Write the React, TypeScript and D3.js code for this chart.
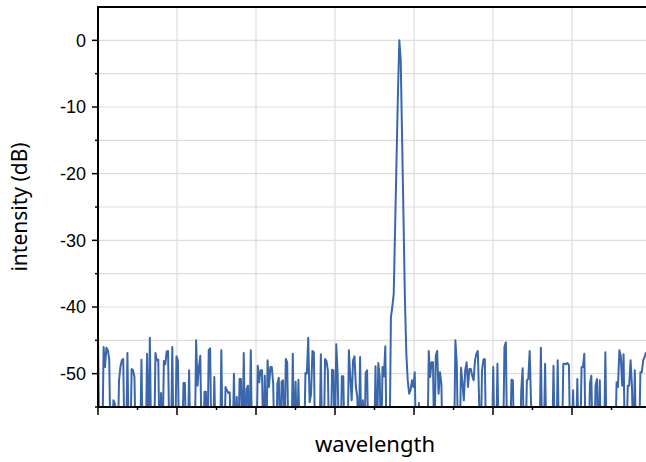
import { useMemo } from "react";
import * as d3 from "d3";

// spectrum samples in dB, evenly spaced along the wavelength axis
const intensity = [
  -44.2, -62, -62, -62, -46, -49, -46.1, -46.5, -47.8, -62,
  -62, -54, -54.5, -62, -62, -51, -49, -48, -47.8, -62,
  -62, -46.9, -62, -62, -49.3, -49.5, -50.5, -62, -62, -62,
  -62, -47.9, -62, -62, -62, -47, -62, -44.6, -62, -62,
  -62, -46.9, -48, -47.9, -62, -52.9, -62, -48.1, -48.6, -46.7,
  -46.6, -62, -62, -46, -62, -62, -47.4, -48, -62, -62,
  -62, -51.4, -51.4, -62, -62, -49.5, -62, -62, -62, -62,
  -45, -51.8, -49, -47.3, -62, -62, -52.7, -52.7, -62, -46.5,
  -46.2, -62, -62, -50.5, -62, -62, -62, -62, -46.5, -62,
  -62, -52, -52.5, -52.9, -52.8, -62, -62, -50, -62, -53.5,
  -62, -50.8, -50.8, -62, -46.9, -62, -52.3, -51.8, -62, -46.5,
  -62, -62, -62, -62, -48.8, -51.3, -49.5, -49.5, -62, -50.3,
  -62, -48, -52, -49, -49, -51.5, -62, -62, -51.5, -50.6,
  -62, -51.2, -51, -62, -47.8, -48.3, -62, -62, -62, -47,
  -62, -51.2, -62, -50.9, -62, -62, -62, -62, -49.9, -50,
  -44.6, -54.3, -53.1, -46.6, -46.8, -62, -62, -62, -62, -47.1,
  -62, -62, -47.8, -48.1, -49.5, -62, -62, -49.4, -49.5, -62,
  -45.6, -50, -62, -62, -50.4, -50.4, -62, -62, -62, -46.5,
  -50.5, -54, -48, -47.4, -52, -53.5, -62, -47.5, -62, -54,
  -62, -49.9, -49.5, -62, -62, -62, -62, -62, -48.9, -62,
  -48.4, -50.5, -62, -49, -50.4, -45.9, -62, -62, -62, -41.5,
  -40, -38, -28, -18, -8, 0, -3, -15, -27, -39,
  -47, -51, -53, -52.5, -51, -52, -49.8, -62, -62, -54.4,
  -62, -62, -62, -62, -62, -62, -46.6, -50.5, -48.3, -48.3,
  -62, -47.3, -46.6, -53, -49.8, -51.5, -62, -62, -62, -62,
  -62, -62, -62, -62, -62, -45, -48.5, -62, -62, -49.1,
  -51.3, -54, -49.5, -48.3, -52, -49.3, -49.3, -50.3, -51, -48,
  -47, -46.6, -54.5, -62, -49.5, -47.9, -47.8, -62, -62, -62,
  -62, -62, -49, -62, -62, -48.5, -62, -62, -62, -62,
  -46, -45.3, -62, -62, -62, -50.9, -51, -62, -62, -62,
  -62, -62, -52.5, -49.2, -62, -62, -51, -50.8, -46.6, -54.5,
  -62, -62, -62, -62, -62, -62, -46.1, -62, -62, -48.5,
  -62, -62, -62, -62, -62, -48.8, -62, -62, -48, -62,
  -62, -62, -48.5, -48.5, -48.6, -48.4, -48.7, -62, -62, -52.5,
  -62, -62, -50.8, -62, -62, -49, -49, -47, -62, -62,
  -62, -51.5, -50.3, -62, -62, -51.8, -50.8, -62, -51, -62,
  -62, -62, -46.8, -62, -62, -62, -62, -62, -62, -62,
  -51.3, -52, -46.5, -47.3, -51.8, -47.1, -62, -62, -51.8, -51.8,
  -48, -52, -62, -49.5, -62, -62, -62, -49.8, -49.8, -48,
  -47.5, -46.8,
];

const yMajorTicks = [0, -10, -20, -30, -40, -50];
const yMinorTicks = [5, -5, -15, -25, -35, -45, -55];
const xMajorTicks = [0, 1, 2, 3, 4, 5, 6];
const xMinorTicks = [0.5, 1.5, 2.5, 3.5, 4.5, 5.5, 6.5];

const width = 646;
const height = 462;
const left = 98;
const right = 646;
const top = 7;
const bottom = 407;
const lineColor = "#3a67ab";
const gridColor = "#dedede";

export default function App() {
  const y = d3.scaleLinear().domain([-55, 5]).range([bottom, top]);
  // data index -> pixel, and division units (no labels) for the ticks
  const x = d3.scaleLinear().domain([0, intensity.length - 1]).range([left, right]);
  const xDiv = d3.scaleLinear().domain([0, (right - left) / 79]).range([left, right]);

  const path = useMemo(() => {
    const line = d3
      .line<number>()
      .x((_, i) => x(i))
      .y((d) => y(d));
    return line(intensity) ?? "";
  }, []);

  const gridY = [...yMajorTicks, ...yMinorTicks].filter((t) => t < 5 && t > -55);

  return (
    <svg
      width={width}
      height={height}
      style={{ position: "absolute", left: 0, top: 0, background: "#fff" }}
    >
      <defs>
        <clipPath id="plot">
          <rect x={left} y={top} width={right - left} height={bottom - top} />
        </clipPath>
      </defs>

      {gridY.map((t) => (
        <line key={"gy" + t} x1={left} x2={right} y1={y(t)} y2={y(t)} stroke={gridColor} strokeWidth={1.2} />
      ))}
      {xMajorTicks.filter((t) => t > 0).map((t) => (
        <line key={"gx" + t} x1={xDiv(t)} x2={xDiv(t)} y1={top} y2={bottom} stroke={gridColor} strokeWidth={1.2} />
      ))}

      <path d={path} fill="none" stroke={lineColor} strokeWidth={2} strokeLinejoin="round" clipPath="url(#plot)" />

      {/* axes frame */}
      <line x1={left - 1} x2={right} y1={top} y2={top} stroke="#000" strokeWidth={2} />
      <line x1={left} x2={left} y1={top} y2={bottom + 1} stroke="#000" strokeWidth={2} />
      <line x1={left} x2={right} y1={bottom} y2={bottom} stroke="#000" strokeWidth={2} />

      {yMajorTicks.map((t) => (
        <g key={"ym" + t}>
          <line x1={left - 6} x2={left} y1={y(t)} y2={y(t)} stroke="#000" strokeWidth={1.5} />
          <text
            x={left - 12}
            y={y(t)}
            dy="0.35em"
            textAnchor="end"
            fontFamily="'Liberation Sans', Arial, sans-serif"
            fontSize={18}
            fill="#000"
          >
            {t}
          </text>
        </g>
      ))}
      {yMinorTicks.filter((t) => t < 5).map((t) => (
        <line key={"yn" + t} x1={left - 3} x2={left} y1={y(t)} y2={y(t)} stroke="#000" strokeWidth={1.5} />
      ))}
      {xMajorTicks.map((t) => (
        <line key={"xm" + t} x1={xDiv(t)} x2={xDiv(t)} y1={bottom} y2={bottom + 8} stroke="#000" strokeWidth={1.5} />
      ))}
      {xMinorTicks.map((t) => (
        <line key={"xn" + t} x1={xDiv(t)} x2={xDiv(t)} y1={bottom} y2={bottom + 3} stroke="#000" strokeWidth={1.5} />
      ))}

      <text
        x={375}
        y={452}
        textAnchor="middle"
        fontFamily="'Noto Sans', 'Open Sans', sans-serif"
        fontSize={22}
        fill="#000"
      >
        wavelength
      </text>
      <text
        transform={`translate(27, ${(top + bottom) / 2}) rotate(-90)`}
        textAnchor="middle"
        fontFamily="'Noto Sans', 'Open Sans', sans-serif"
        fontSize={21}
        fill="#000"
      >
        intensity (dB)
      </text>
    </svg>
  );
}
